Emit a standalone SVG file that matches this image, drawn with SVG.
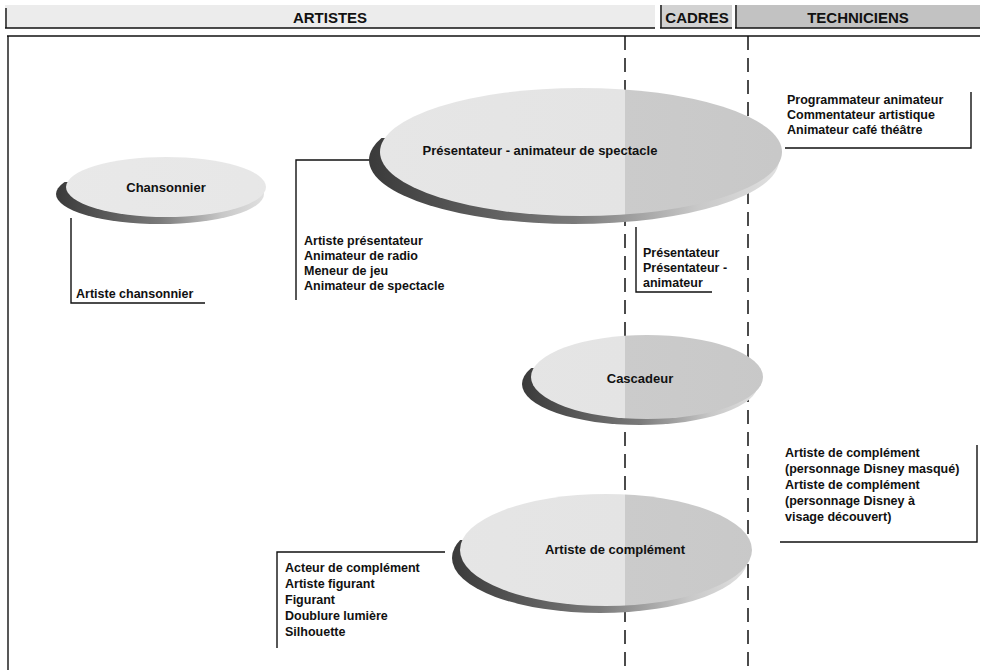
<svg xmlns="http://www.w3.org/2000/svg" width="984" height="670" viewBox="0 0 984 670">
<style>
text{font-family:"Liberation Sans",Arial,sans-serif;fill:#111;}
.hd{font-size:15px;font-weight:bold;text-anchor:middle;}
.nl{font-size:13px;font-weight:bold;text-anchor:middle;}
.it{font-size:12.5px;font-weight:bold;}
.ln{stroke:#111;stroke-width:1.4;fill:none;}
.dash{stroke:#111;stroke-width:1.5;stroke-dasharray:14 8;fill:none;}
.el{fill:url(#fillG);}
.sh{fill:url(#shG);}
</style>
<defs>
<linearGradient id="fillG" gradientUnits="userSpaceOnUse" x1="0" y1="0" x2="984" y2="0">
<stop offset="0" stop-color="#e9e9e9"/>
<stop offset="0.635" stop-color="#e4e4e4"/>
<stop offset="0.635" stop-color="#cbcbcb"/>
<stop offset="1" stop-color="#c4c4c4"/>
</linearGradient>
<linearGradient id="shG" x1="0" y1="0" x2="1" y2="0">
<stop offset="0" stop-color="#3a3a3a"/>
<stop offset="0.5" stop-color="#7a7a7a"/>
<stop offset="0.8" stop-color="#c8c8c8"/>
<stop offset="1" stop-color="#e0e0e0"/>
</linearGradient>
<clipPath id="cChan"><rect x="0" y="182" width="400" height="60"/></clipPath>
<clipPath id="cPres"><rect x="300" y="138" width="600" height="100"/></clipPath>
<clipPath id="cCasc"><rect x="450" y="368" width="400" height="70"/></clipPath>
<clipPath id="cComp"><rect x="400" y="540" width="400" height="90"/></clipPath>
</defs>

<g id="header">
<rect x="5" y="5" width="650" height="23" fill="#ececec"/>
<rect x="660" y="5" width="72" height="23" fill="#d2d2d2"/>
<rect x="735" y="5" width="245" height="23" fill="#c2c2c2"/>
<line class="ln" x1="5" y1="28" x2="655" y2="28"/>
<line class="ln" x1="660" y1="28" x2="732" y2="28"/>
<line class="ln" x1="735" y1="28" x2="980" y2="28"/>
<line class="ln" x1="6" y1="8" x2="6" y2="28"/>
<line class="ln" x1="661" y1="5" x2="661" y2="28"/>
<line class="ln" x1="736" y1="5" x2="736" y2="28"/>
<text class="hd" x="330" y="23">ARTISTES</text>
<text class="hd" x="697" y="23">CADRES</text>
<text class="hd" x="858" y="23">TECHNICIENS</text>
</g>

<g id="frame">
<line class="ln" x1="7" y1="36" x2="980" y2="36"/>
<line class="ln" x1="8" y1="36" x2="8" y2="670"/>
<line class="dash" x1="625" y1="36" x2="625" y2="670"/>
<line class="dash" x1="748" y1="36" x2="748" y2="670"/>
</g>

<g id="connectors">
<polyline class="ln" points="71,218 71,303 205,303"/>
<polyline class="ln" points="372,160 296,160 296,300"/>
<polyline class="ln" points="636,227 636,292 712,292"/>
<polyline class="ln" points="971,92 971,148 785,148"/>
<polyline class="ln" points="977,445 977,542 780,542"/>
<polyline class="ln" points="445,552 277,552 277,648"/>
</g>

<g id="chansonnier">
<ellipse class="sh" cx="160" cy="194" rx="104" ry="30" clip-path="url(#cChan)"/>
<ellipse class="el" cx="166" cy="187" rx="100" ry="30"/>
<text class="nl" x="166" y="192">Chansonnier</text>
</g>

<g id="presentateur">
<ellipse class="sh" cx="574" cy="160" rx="205" ry="64" clip-path="url(#cPres)"/>
<ellipse class="el" cx="581" cy="152" rx="201" ry="64"/>
<text class="nl" x="540" y="155">Présentateur - animateur de spectacle</text>
</g>

<g id="cascadeur">
<ellipse class="sh" cx="640" cy="384" rx="118" ry="41" clip-path="url(#cCasc)"/>
<ellipse class="el" cx="647" cy="377" rx="116" ry="42"/>
<text class="nl" x="640" y="383">Cascadeur</text>
</g>

<g id="complement">
<ellipse class="sh" cx="600" cy="558" rx="148" ry="55" clip-path="url(#cComp)"/>
<ellipse class="el" cx="606" cy="550" rx="146" ry="56"/>
<text class="nl" x="615" y="554">Artiste de complément</text>
</g>

<g id="list-chansonnier">
<text class="it" x="76" y="298">Artiste chansonnier</text>
</g>
<g id="list-presentateur-artistes">
<text class="it" x="304" y="245">Artiste présentateur</text>
<text class="it" x="304" y="260">Animateur de radio</text>
<text class="it" x="304" y="275">Meneur de jeu</text>
<text class="it" x="304" y="290">Animateur de spectacle</text>
</g>
<g id="list-presentateur-cadres">
<text class="it" x="643" y="257">Présentateur</text>
<text class="it" x="643" y="272">Présentateur -</text>
<text class="it" x="643" y="287">animateur</text>
</g>
<g id="list-presentateur-tech">
<text class="it" x="787" y="104">Programmateur animateur</text>
<text class="it" x="787" y="119">Commentateur artistique</text>
<text class="it" x="787" y="134">Animateur café théâtre</text>
</g>
<g id="list-complement-tech">
<text class="it" x="785" y="457">Artiste de complément</text>
<text class="it" x="785" y="473">(personnage Disney masqué)</text>
<text class="it" x="785" y="489">Artiste de complément</text>
<text class="it" x="785" y="505">(personnage Disney à</text>
<text class="it" x="785" y="521">visage découvert)</text>
</g>
<g id="list-complement-artistes">
<text class="it" x="285" y="572">Acteur de complément</text>
<text class="it" x="285" y="588">Artiste figurant</text>
<text class="it" x="285" y="604">Figurant</text>
<text class="it" x="285" y="620">Doublure lumière</text>
<text class="it" x="285" y="636">Silhouette</text>
</g>
</svg>
